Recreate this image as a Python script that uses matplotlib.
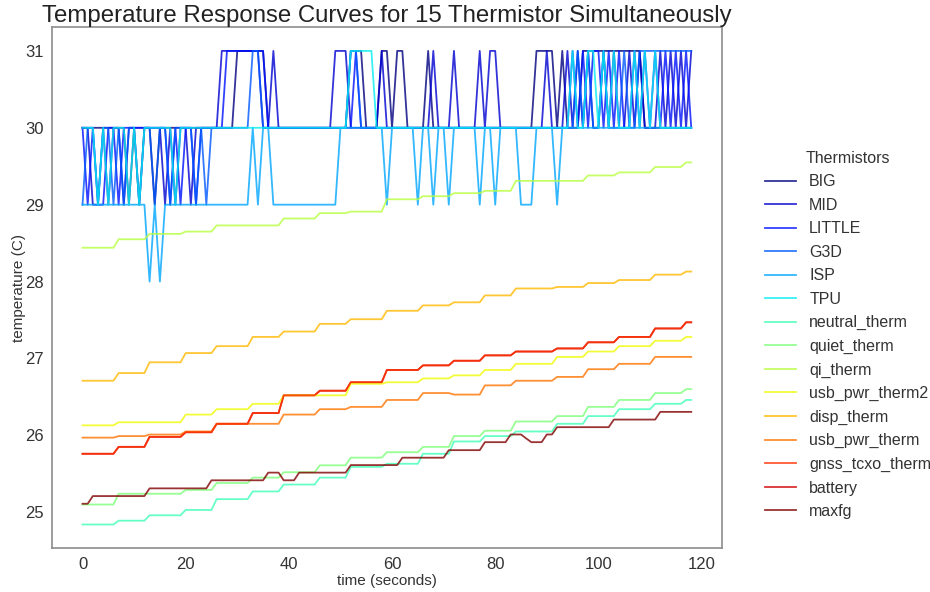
import numpy as np
import matplotlib
matplotlib.use("Agg")
import matplotlib.pyplot as plt

plt.rcParams['font.family'] = ['Liberation Sans', 'DejaVu Sans']

# time axis (seconds, one sample per second)
time_s = np.arange(0, 119)

names = ['BIG', 'MID', 'LITTLE', 'G3D', 'ISP', 'TPU', 'neutral_therm', 'quiet_therm',
         'qi_therm', 'usb_pwr_therm2', 'disp_therm', 'usb_pwr_therm', 'gnss_tcxo_therm',
         'battery', 'maxfg']

# integer readings of the fast sensors, one digit per second (last digit of the temperature)
digit_temp = {'8': 28, '9': 29, '0': 30, '1': 31}
big_codes = ("0000000009 0900900000 0000000000 1111110000 0000000000 0011100011 "
             "0110000100 0000000000 0000000011 1101000111 1111111110 000000000")
mid_codes = ("0099090090 0000009090 0900000111 1111100100 0000000001 1100000010 "
             "0000000010 0010000101 1000000000 1000101010 0101001010 001010101")
little_codes = ("0909900900 0000000909 0090000011 1111110000 0000000000 0001000000 "
                "0000000000 0000000000 0000000000 0000010101 1010100101 010101010")
g3d_codes = ("9009009090 0900900900 0090900000 0001100000 0000000000 0011000000 "
             "0000000000 0000000000 0000000000 0000001010 0100010011 111111111")
isp_codes = ("9999999999 9998989999 9999999999 9990900999 9999999999 0000000009 "
             "0000090090 0900000900 9000099900 0090000000 0000000000 000000000")
tpu_codes = ("0009090009 0900000090 0000000000 0000000000 0000000000 0011111000 "
             "0000000000 0000000000 0000000000 0000010011 0101000101 010000000")

# slow sensors: level held from each of these times
step_starts = [0, 7, 13, 20, 26, 33, 39, 46, 52, 59, 66, 72, 78, 84, 92, 98, 104, 111, 117]
neutral_levels = [24.84, 24.89, 24.96, 25.03, 25.17, 25.27, 25.36, 25.45, 25.59, 25.63,
                  25.76, 25.92, 25.99, 26.05, 26.15, 26.25, 26.34, 26.41, 26.46]
quiet_levels = [25.10, 25.24, 25.24, 25.29, 25.38, 25.45, 25.52, 25.61, 25.71, 25.78,
                25.85, 25.99, 26.06, 26.18, 26.25, 26.37, 26.46, 26.55, 26.60]
qi_levels = [28.44, 28.55, 28.62, 28.65, 28.73, 28.73, 28.82, 28.89, 28.91, 29.07,
             29.11, 29.15, 29.18, 29.31, 29.31, 29.38, 29.42, 29.49, 29.55]
usb2_levels = [26.13, 26.17, 26.17, 26.27, 26.34, 26.41, 26.52, 26.52, 26.67, 26.69,
               26.74, 26.78, 26.85, 26.93, 27.02, 27.09, 27.16, 27.23, 27.28]
disp_levels = [26.71, 26.81, 26.95, 27.07, 27.16, 27.28, 27.35, 27.45, 27.51, 27.62,
               27.69, 27.73, 27.82, 27.91, 27.93, 27.98, 28.02, 28.09, 28.13]
usb_levels = [25.97, 25.99, 26.01, 26.05, 26.15, 26.15, 26.27, 26.34, 26.37, 26.46,
              26.55, 26.53, 26.65, 26.71, 26.76, 26.86, 26.93, 27.02, 27.02]
gnss_levels = [25.76, 25.85, 25.98, 26.04, 26.15, 26.29, 26.52, 26.58, 26.69, 26.85,
               26.91, 26.97, 27.04, 27.09, 27.13, 27.21, 27.28, 27.39, 27.47]
battery_levels = [25.76, 25.85, 25.98, 26.04, 26.15, 26.29, 26.52, 26.58, 26.69, 26.85,
                  26.91, 26.97, 27.04, 27.09, 27.13, 27.21, 27.28, 27.39, 27.47]

# maxfg has its own change times
maxfg_starts = [0, 2, 13, 25, 36, 39, 42, 52, 62, 71, 78, 83, 86, 87, 90, 92, 103, 112]
maxfg_levels = [25.11, 25.21, 25.31, 25.415, 25.515, 25.415, 25.515, 25.613, 25.709,
                25.807, 25.911, 26.011, 25.96, 25.911, 26.011, 26.106, 26.205, 26.305]


def decode(codes):
    return np.array([digit_temp[c] for c in codes.replace(' ', '')], dtype=float)


def hold(starts, levels):
    idx = np.searchsorted(starts, time_s, side='right') - 1
    return np.asarray(levels)[idx]


series = [decode(big_codes), decode(mid_codes), decode(little_codes), decode(g3d_codes),
          decode(isp_codes), decode(tpu_codes),
          hold(step_starts, neutral_levels), hold(step_starts, quiet_levels),
          hold(step_starts, qi_levels), hold(step_starts, usb2_levels),
          hold(step_starts, disp_levels), hold(step_starts, usb_levels),
          hold(step_starts, gnss_levels), hold(step_starts, battery_levels),
          hold(maxfg_starts, maxfg_levels)]

colors = plt.cm.jet(np.linspace(0, 1, len(names)))

fig = plt.figure(figsize=(9.3, 5.92), dpi=100)
ax = fig.add_axes([0.056, 0.074, 0.72, 0.88])

for name, vals, col in zip(names, series, colors):
    # battery sits under gnss_tcxo_therm in the reference
    z = 1.9 if name == 'battery' else 2
    ax.plot(time_s, vals, color=col, alpha=0.8, linewidth=1.3, label=name, zorder=z)

ax.set_title('Temperature Response Curves for 15 Thermistor Simultaneously',
             fontsize=17.3, color='#222222', pad=3)
ax.set_xlabel('time (seconds)', fontsize=11, color='#333333', labelpad=2)
ax.set_ylabel('temperature (C)', fontsize=11, color='#333333', labelpad=-1)
ax.set_xticks([0, 20, 40, 60, 80, 100, 120])
ax.set_yticks([25, 26, 27, 28, 29, 30, 31])
ax.tick_params(length=0, labelsize=12, labelcolor='#333333', pad=6)
for sp in ax.spines.values():
    sp.set_color('#8c8c8c')
    sp.set_linewidth(1.2)

leg = ax.legend(title='Thermistors', loc='upper left', bbox_to_anchor=(1.0425, 0.79),
                frameon=False, fontsize=11.5, title_fontsize=11.5, labelspacing=0.53)
for t in leg.get_texts():
    t.set_color('#333333')
leg.get_title().set_color('#333333')

fig.savefig('out.png', dpi=100)
